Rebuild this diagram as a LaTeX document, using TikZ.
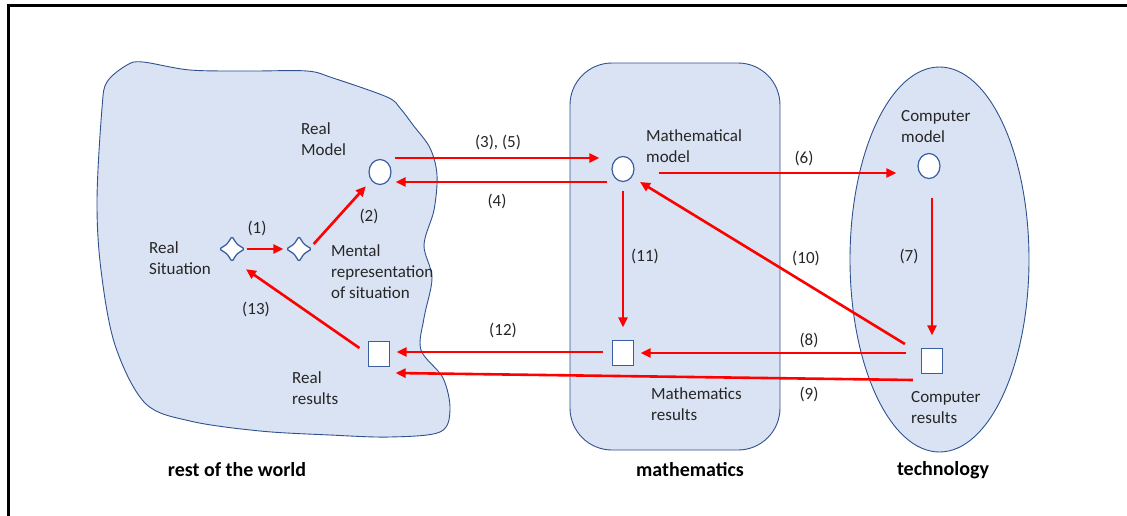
\documentclass[tikz,border=0pt]{standalone}
\usepackage{fontspec}
\setmainfont{Carlito}
\usetikzlibrary{arrows.meta,shapes.geometric,calc}
\definecolor{regfill}{HTML}{DAE3F3}
\definecolor{regline}{HTML}{2F528F}
\definecolor{objline}{HTML}{3A5FA0}
\definecolor{txt}{HTML}{262626}
\tikzset{
  region/.style={fill=regfill, draw=regline, line width=0.9pt},
  circ/.style={ellipse, draw=objline, fill=white, line width=1.2pt, minimum width=22pt, minimum height=25pt, inner sep=0pt},
  sq/.style={rectangle, draw=objline, fill=white, line width=1.2pt, minimum width=21pt, minimum height=25pt, inner sep=0pt},
  dia/.style={star, star points=4, star point ratio=1.8, draw=objline, fill=white, line width=1.3pt, minimum size=25pt, inner sep=0pt, rounded corners=1.5pt},
  arr/.style={draw=red, line width=2.6pt, -{Triangle[length=10pt,width=9pt]}},
  lbl/.style={text=txt, font=\fontsize{17}{21}\selectfont, inner sep=0pt},
  desc/.style={lbl, anchor=north west, align=left},
  title/.style={text=black, font=\fontsize{20}{24}\selectfont\bfseries, inner sep=0pt}
}
\begin{document}
\begin{tikzpicture}[x=1pt,y=-1pt]
\useasboundingbox (0,0) rectangle (1127,515);
% frame
\draw[line width=3pt, line cap=rect] (8,515) -- (8,5.5) -- (1127,5.5);
% regions
\path[region] plot[smooth cycle, tension=0.55] coordinates {
 (127,65) (143,62) (190,70) (250,71) (307,71) (333,78) (387,97) (400,108)
 (413,125) (430,148) (437,175) (434,210) (424,245) (432,278) (424,318)
 (421,350) (443,378) (450,410) (440,432) (390,437) (330,435) (260,431)
 (190,421) (145,403) (115,345) (101,270) (97,200) (102,108) (107,82)};
\path[region, rounded corners=42pt] (570,63) rectangle (780,450);
\path[region] (939.5,259.5) ellipse [x radius=89.5, y radius=192.5];
% objects
\node[circ] (rm) at (380,172) {};
\node[circ] (mm) at (623,169) {};
\node[circ] (cm) at (929,166) {};
\node[dia] (rs) at (232,249) {};
\node[dia] (mr) at (299,249) {};
\node[sq] (rr) at (379,354) {};
\node[sq] (mres) at (623,353) {};
\node[sq] (cr) at (932,361) {};
% descriptions
\node[desc] (trm) at (301,122) {Real\\Model};
\node[desc] (trs) at (149,241) {Real\\Situation};
\node[desc] (tmr) at (331,244) {Mental\\representation\\of situation};
\node[desc] (trr) at (292,371) {Real\\results};
\node[desc] (tmm) at (646,129) {Mathematical\\model};
\node[desc] (tmres) at (651,387) {Mathematics\\results};
\node[desc] (tcm) at (901,110) {Computer\\model};
\node[desc] (tcr) at (911,391) {Computer\\results};
% titles
\node[title] (t1) at (237,470) {rest of the world};
\node[title] (t2) at (690,470) {mathematics};
\node[title] (t3) at (943,470) {technology};
% arrows
\draw[arr] ($(rs.east)+(1,0)$) -- ($(mr.west)+(-2,0)$);
\draw[arr] ($(mr.east)+(1,-5)$) -- ($(rm.south west)+(-6,5)$);
\draw[arr] ($(rm.east)+(3,-14)$) -- ($(mm.west)+(-12,-11)$);
\draw[arr] ($(mm.west)+(-4,13)$) -- ($(rm.east)+(4,10)$);
\draw[arr] ($(mm.east)+(24,4)$) -- ($(cm.west)+(-21,7)$);
\draw[arr] ($(cm.south)+(3,18.5)$) -- ($(cr.north)+(0,-12.5)$);
\draw[arr] ($(cr.west)+(-15,-8)$) -- ($(mres.east)+(6.5,0)$);
\draw[arr] ($(cr.west)+(-8,19)$) -- ($(rr.east)+(5.5,19)$);
\draw[arr] ($(cr.west)+(-16,-17)$) -- ($(mm.center)+(17,13)$);
\draw[arr] ($(mm.south)+(0,8.5)$) -- ($(mres.north)+(0,-12.5)$);
\draw[arr] ($(mres.west)+(-8.5,-1)$) -- ($(rr.east)+(6.5,-2)$);
\draw[arr] ($(rr.west)+(-8.5,-6)$) -- ($(rs.south)+(14,6.5)$);
% arrow labels
\node[lbl] (l1) at (257,228) {(1)};
\node[lbl] (l2) at (369,216) {(2)};
\node[lbl] (l35) at (498,142) {(3), (5)};
\node[lbl] (l4) at (497,201) {(4)};
\node[lbl] (l6) at (804,158) {(6)};
\node[lbl] (l7) at (909,256) {(7)};
\node[lbl] (l8) at (809,340) {(8)};
\node[lbl] (l9) at (809,394) {(9)};
\node[lbl] (l10) at (806,258) {(10)};
\node[lbl] (l11) at (645,256) {(11)};
\node[lbl] (l12) at (503,330) {(12)};
\node[lbl] (l13) at (256,309) {(13)};
\end{tikzpicture}
\end{document}
